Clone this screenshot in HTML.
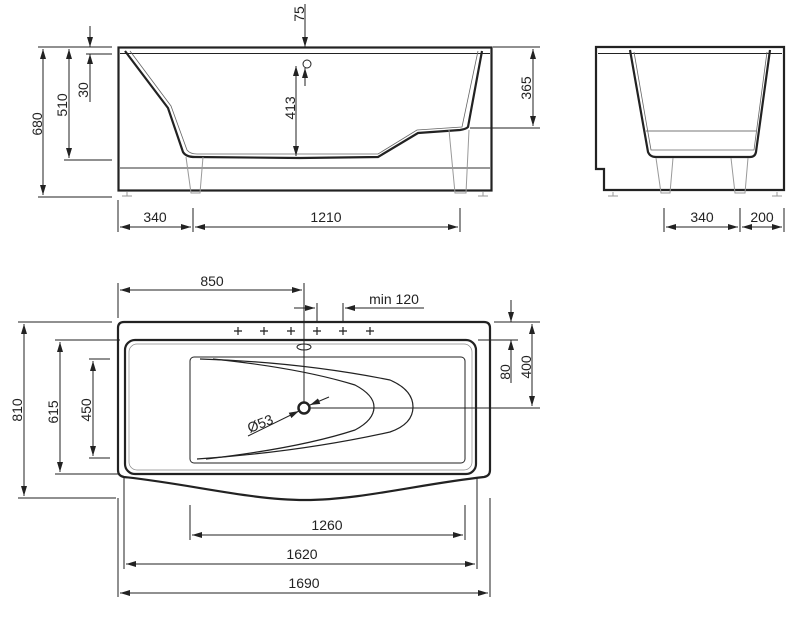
<!DOCTYPE html>
<html><head><meta charset="utf-8"><style>
html,body{margin:0;padding:0;background:#fff;}
svg{display:block;}
text{font-family:"Liberation Sans",sans-serif;font-size:14px;fill:#222;}
</style></head><body>
<svg width="800" height="627" viewBox="0 0 800 627" xmlns="http://www.w3.org/2000/svg">
<defs>
<marker id="a" viewBox="0 0 10 6" refX="10" refY="3" markerWidth="10" markerHeight="6" orient="auto-start-reverse" markerUnits="userSpaceOnUse"><path d="M0,0 L10,3 L0,6 z" fill="#222"/></marker>
</defs>
<g stroke="#222" fill="none">
<!-- FRONT VIEW -->
<rect x="118.5" y="47.5" width="373" height="143" stroke-width="2.2"/>
<line x1="120" y1="53.5" x2="490" y2="53.5" stroke-width="1"/>
<line x1="120" y1="168" x2="490" y2="168" stroke="#777" stroke-width="1.5"/>
<path d="M125,51 L168,108 L183,152 Q186,157 195,157 L300,158 L378,157 L418,133 L460,130 Q466,129 468,127 L482,51" stroke-width="2.2"/>
<path d="M130,51 L171,106 L187,150 Q190,154 197,154 L378,154 L417,130 L462,127 L478,51" stroke-width="0.8" stroke="#666"/>
<g stroke="#999" stroke-width="1">
<path d="M186,157 L191,193 L200,193 L203,157"/><path d="M449,130 L455,193 L466,193 L469,130"/>
<path d="M122,196 L132,196 M127,192 L127,196"/><path d="M478,196 L488,196 M483,192 L483,196"/>
</g>
<g stroke-width="1">
<line x1="38" y1="47" x2="112" y2="47"/><line x1="38" y1="197" x2="112" y2="197"/>
<line x1="64" y1="160" x2="112" y2="160"/><line x1="86" y1="54" x2="112" y2="54"/>
<line x1="43" y1="49" x2="43" y2="195" marker-start="url(#a)" marker-end="url(#a)"/>
<line x1="69" y1="49" x2="69" y2="158" marker-start="url(#a)" marker-end="url(#a)"/>
<line x1="90" y1="26" x2="90" y2="47" marker-end="url(#a)"/>
<line x1="90" y1="102" x2="90" y2="54" marker-end="url(#a)"/>
<line x1="305" y1="4" x2="305" y2="47" marker-end="url(#a)"/>
<line x1="305" y1="86" x2="305" y2="68" marker-end="url(#a)"/>
<circle cx="307" cy="64" r="4"/>
<line x1="296" y1="66" x2="296" y2="156" marker-start="url(#a)" marker-end="url(#a)"/>
<line x1="493" y1="47" x2="540" y2="47"/><line x1="470" y1="128" x2="540" y2="128"/>
<line x1="533" y1="49" x2="533" y2="126" marker-start="url(#a)" marker-end="url(#a)"/>
<line x1="118" y1="200" x2="118" y2="232"/><line x1="193" y1="208" x2="193" y2="232"/><line x1="460" y1="208" x2="460" y2="232"/>
<line x1="120" y1="227" x2="191" y2="227" marker-start="url(#a)" marker-end="url(#a)"/>
<line x1="195" y1="227" x2="458" y2="227" marker-start="url(#a)" marker-end="url(#a)"/>
</g>
<!-- SIDE VIEW -->
<path d="M596,47 L784,47 L784,190 L604,190 L604,169 L596,169 Z" stroke-width="2.2"/>
<line x1="598" y1="53.5" x2="782" y2="53.5" stroke-width="1"/>
<path d="M630,50 L648,152 Q650,157 656,157 L750,157 Q755,157 756,152 L770,50" stroke-width="2.2"/>
<path d="M634,52 L651,150 L754,150 L767,52" stroke-width="0.8" stroke="#666"/>
<line x1="646" y1="131" x2="756" y2="131" stroke="#777" stroke-width="1"/>
<g stroke="#999" stroke-width="1">
<path d="M656,158 L661,193 L670,193 L673,158"/><path d="M731,158 L735,193 L745,193 L748,158"/>
<path d="M608,196 L618,196 M613,192 L613,196"/><path d="M772,196 L782,196 M777,192 L777,196"/>
</g>
<g stroke-width="1">
<line x1="664" y1="208" x2="664" y2="232"/><line x1="740" y1="208" x2="740" y2="232"/><line x1="784" y1="208" x2="784" y2="232"/>
<line x1="666" y1="227" x2="738" y2="227" marker-start="url(#a)" marker-end="url(#a)"/>
<line x1="742" y1="227" x2="782" y2="227" marker-start="url(#a)" marker-end="url(#a)"/>
</g>
<!-- TOP VIEW -->
<path d="M124,322 L484,322 Q490,322 490,328 L490,470 Q490,476 484,477 C420,484 360,500 305,500 C250,500 190,484 124,477 Q118,476 118,470 L118,328 Q118,322 124,322 Z" stroke-width="2.2"/>
<rect x="125" y="340" width="351" height="134" rx="10" stroke-width="2.2"/>
<rect x="129" y="344" width="343" height="126" rx="8" stroke-width="0.7" stroke="#888"/>
<rect x="190" y="357" width="275" height="106" rx="4" stroke-width="1"/>
<path d="M200,359 Q300,362 390,380 Q413,390 413,407 Q413,424 390,432 Q300,452 197,459" stroke-width="1.2"/>
<path d="M213,359 Q300,368 355,385 Q374,395 374,407 Q374,420 355,430 Q300,448 206,459" stroke-width="1.2"/>
<circle cx="304" cy="408" r="5.5" stroke-width="2.5"/>
<ellipse cx="304" cy="347" rx="7" ry="3" stroke-width="1"/>
<g stroke-width="1.2">
<path d="M234,331h8M238,327v8 M260,331h8M264,327v8 M287,331h8M291,327v8 M313,331h8M317,327v8 M339,331h8M343,327v8 M366,331h8M370,327v8"/>
</g>
<g stroke-width="1">
<line x1="118" y1="283" x2="118" y2="318"/>
<line x1="304" y1="283" x2="304" y2="402"/>
<line x1="120" y1="290" x2="302" y2="290" marker-start="url(#a)" marker-end="url(#a)"/>
<line x1="317" y1="303" x2="317" y2="321"/><line x1="343" y1="303" x2="343" y2="321"/>
<line x1="294" y1="308" x2="315" y2="308" marker-end="url(#a)"/>
<line x1="424" y1="308" x2="345" y2="308" marker-end="url(#a)"/>
<line x1="248" y1="436" x2="299" y2="411" marker-end="url(#a)"/>
<line x1="329" y1="397" x2="310" y2="405" marker-end="url(#a)"/>
<line x1="310" y1="408" x2="540" y2="408"/>
<line x1="18" y1="322" x2="112" y2="322"/><line x1="18" y1="498" x2="116" y2="498"/>
<line x1="55" y1="340" x2="120" y2="340"/><line x1="55" y1="474" x2="120" y2="474"/>
<line x1="89" y1="359" x2="110" y2="359"/><line x1="89" y1="458" x2="110" y2="458"/>
<line x1="24" y1="324" x2="24" y2="496" marker-start="url(#a)" marker-end="url(#a)"/>
<line x1="60" y1="342" x2="60" y2="472" marker-start="url(#a)" marker-end="url(#a)"/>
<line x1="93" y1="361" x2="93" y2="456" marker-start="url(#a)" marker-end="url(#a)"/>
<line x1="494" y1="322" x2="540" y2="322"/><line x1="478" y1="340" x2="518" y2="340"/>
<line x1="511" y1="300" x2="511" y2="322" marker-end="url(#a)"/>
<line x1="511" y1="383" x2="511" y2="340" marker-end="url(#a)"/>
<line x1="532" y1="324" x2="532" y2="406" marker-start="url(#a)" marker-end="url(#a)"/>
<line x1="190" y1="505" x2="190" y2="540"/><line x1="465" y1="505" x2="465" y2="540"/>
<line x1="192" y1="535" x2="463" y2="535" marker-start="url(#a)" marker-end="url(#a)"/>
<line x1="124" y1="478" x2="124" y2="569"/><line x1="477" y1="478" x2="477" y2="569"/>
<line x1="126" y1="564" x2="475" y2="564" marker-start="url(#a)" marker-end="url(#a)"/>
<line x1="118" y1="498" x2="118" y2="597"/><line x1="490" y1="498" x2="490" y2="597"/>
<line x1="120" y1="593" x2="488" y2="593" marker-start="url(#a)" marker-end="url(#a)"/>
</g>
</g>
<text transform="translate(42,124) rotate(-90)" text-anchor="middle">680</text>
<text transform="translate(67,105) rotate(-90)" text-anchor="middle">510</text>
<text transform="translate(88,90) rotate(-90)" text-anchor="middle">30</text>
<text transform="translate(304,14) rotate(-90)" text-anchor="middle">75</text>
<text transform="translate(295,108) rotate(-90)" text-anchor="middle">413</text>
<text transform="translate(531,88) rotate(-90)" text-anchor="middle">365</text>
<text x="155" y="222" text-anchor="middle">340</text>
<text x="326" y="222" text-anchor="middle">1210</text>
<text x="702" y="222" text-anchor="middle">340</text>
<text x="762" y="222" text-anchor="middle">200</text>
<text x="212" y="286" text-anchor="middle">850</text>
<text x="394" y="304" text-anchor="middle">min 120</text>
<text transform="translate(22,410) rotate(-90)" text-anchor="middle">810</text>
<text transform="translate(58,412) rotate(-90)" text-anchor="middle">615</text>
<text transform="translate(91,410) rotate(-90)" text-anchor="middle">450</text>
<text transform="translate(510,372) rotate(-90)" text-anchor="middle">80</text>
<text transform="translate(531,367) rotate(-90)" text-anchor="middle">400</text>
<text transform="translate(262,428) rotate(-22)" text-anchor="middle">Ø53</text>
<text x="327" y="530" text-anchor="middle">1260</text>
<text x="302" y="559" text-anchor="middle">1620</text>
<text x="304" y="588" text-anchor="middle">1690</text>
</svg>
</body></html>
